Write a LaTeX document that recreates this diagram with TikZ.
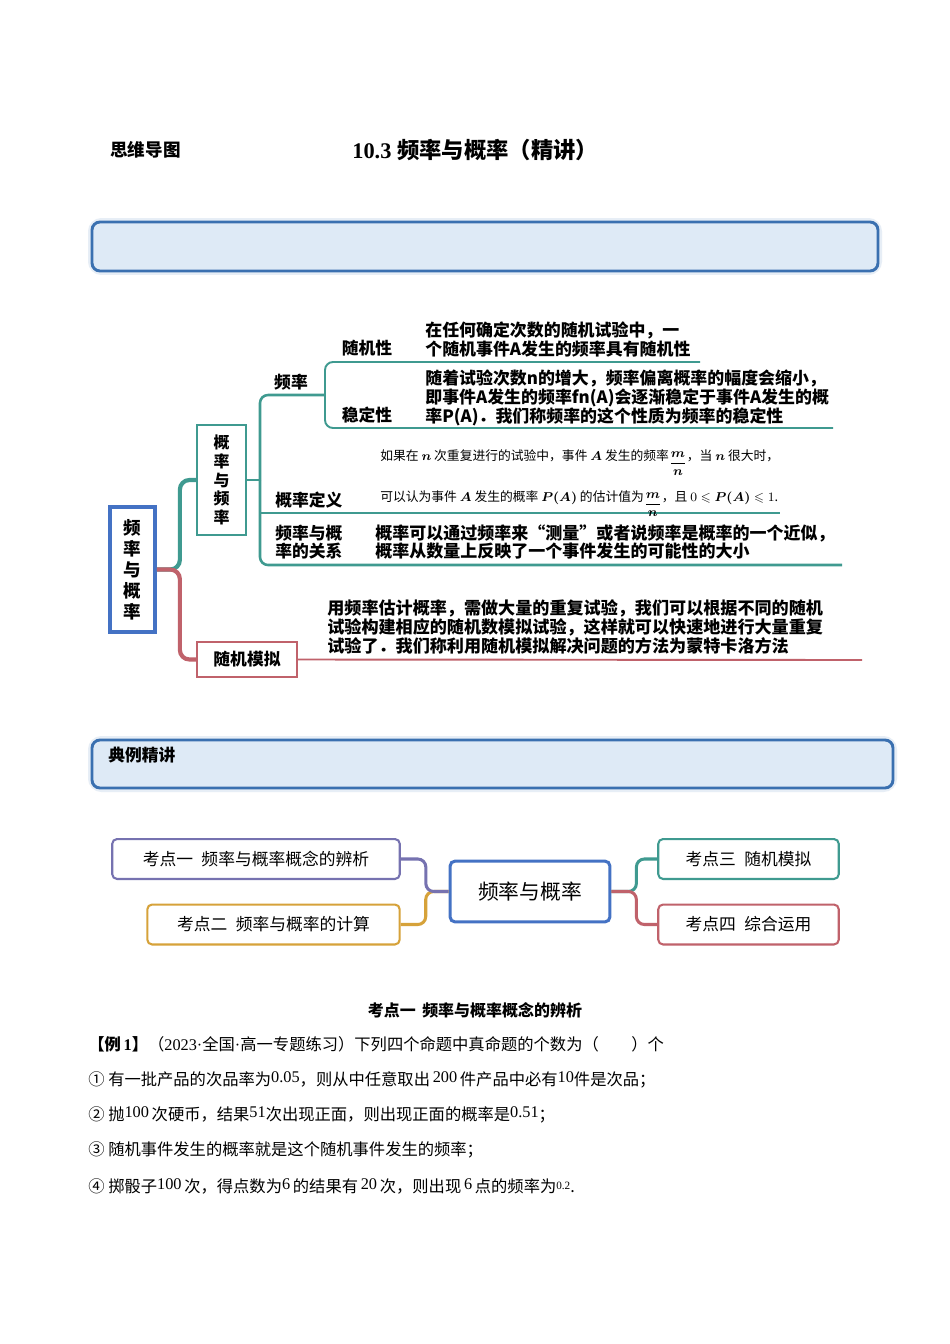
\documentclass[tikz,border=0pt]{standalone}
\usepackage{amsmath,amssymb}
\usepackage{fontspec}
\setmainfont{Liberation Serif}
\newfontfamily\cjk{Noto Sans CJK SC}
\newfontfamily\latn{Liberation Serif}
\usetikzlibrary{positioning,calc}

\definecolor{hdblue}{HTML}{3A70B0}
\definecolor{hdfill}{HTML}{DEEAF6}
\definecolor{rootblue}{HTML}{4472C4}
\definecolor{mmteal}{HTML}{3F9A90}
\definecolor{mmred}{HTML}{C0626B}
\definecolor{kdpurple}{HTML}{7672B0}
\definecolor{kdgold}{HTML}{D6A23A}

\newcommand{\upnum}[1]{\raisebox{0.35ex}{\latn #1}}
\newcommand{\mfrac}{\raisebox{-0.9ex}{$\boldsymbol{\dfrac{m}{n}}$}}

\begin{document}
\begin{tikzpicture}[
    x=0.626pt, y=-0.626pt,
    hdbox/.style={draw=hdblue, line width=1.8pt, fill=hdfill, rounded corners=5pt},
    hdglow/.style={draw=hdblue!12, line width=5pt, rounded corners=6pt},
    rootbox/.style={draw=rootblue, line width=2.5pt, fill=white, minimum width=28pt, minimum height=78pt,
                    align=center, inner sep=0pt, font=\cjk\bfseries\fontsize{11}{13.1}\selectfont},
    subbox/.style={draw=mmteal, line width=1.3pt, fill=white, minimum width=30.5pt, minimum height=68.5pt,
                   align=center, inner sep=0pt, font=\cjk\bfseries\fontsize{10}{11.7}\selectfont},
    simbox/.style={draw=mmred, line width=1.3pt, fill=white, minimum width=62.5pt, minimum height=21.8pt,
                   inner sep=0pt, font=\cjk\bfseries\fontsize{10.5}{12}\selectfont},
    lbl/.style={inner sep=0pt, align=left, font=\cjk\bfseries\fontsize{10.5}{11}\selectfont},
    leaf/.style={inner sep=0pt, align=left, anchor=west, font=\cjk\bfseries\fontsize{10.6}{11.9}\selectfont},
    deftxt/.style={inner sep=0pt, anchor=base west, font=\cjk\fontsize{8}{9}\selectfont},
    tbranch/.style={draw=mmteal, line width=2.6pt, rounded corners=6pt},
    rbranch/.style={draw=mmred, line width=2.6pt, rounded corners=6pt},
    trunk/.style={draw=mmteal, line width=1.6pt, rounded corners=5pt},
    leafline/.style={draw=mmteal, line width=1.2pt, rounded corners=5pt},
    kdbox/.style={draw, line width=1.3pt, fill=white, rounded corners=3pt, inner sep=0pt,
                  minimum height=25pt, font=\cjk\fontsize{10.5}{12}\selectfont},
    kdline/.style={line width=1.9pt, rounded corners=5pt},
    body/.style={inner sep=0pt, anchor=west, font=\cjk\fontsize{10.2}{12}\selectfont},
  ]
    \fill[white] (0,0) rectangle (950,1344);
    \useasboundingbox (0,0) rectangle (950,1344);

    % Page header
    \node[inner sep=0pt, anchor=west, font=\cjk\bfseries\fontsize{11}{12}\selectfont] (mmhead) at (110,150) {思维导图};
    \node[inner sep=0pt, anchor=west, font=\cjk\bfseries\fontsize{14}{15}\selectfont] (title) at (352,150)
        {{\latn\bfseries 10.3 }频率与概率（精讲）};

    % First banner
    \draw[hdglow] (92,222) rectangle (878,271);
    \draw[hdbox] (92,222) rectangle (878,271);

    % Mind map: root and first level
    \node[rootbox] (root) at (132.5,569.5) {频\\率\\与\\概\\率};
    \node[subbox]  (sub)  at (221.5,480)   {概\\率\\与\\频\\率};
    \node[simbox]  (sim)  at (247,659.5)   {随机模拟};

    % Junctions and line ends
    \coordinate (tk)     at (260,480);
    \coordinate (fq)     at (325,395);
    \coordinate (rnd)    at (700,362);
    \coordinate (stb)    at (833,428);
    \coordinate (dfn)    at (780,513);
    \coordinate (rel)    at (842,565);
    \coordinate (simend) at (862,660);

    % Branches
    \draw[tbranch] (root.east) -- ++(23,0) |- (sub.west);
    \draw[rbranch] (root.east) -- ++(23,0) |- (sim.west);
    \draw[trunk] (sub.east) -- (tk);
    \draw[trunk] (tk) |- (fq);
    \draw[trunk] (tk) |- (rel);
    \draw[leafline] (tk |- dfn) -- (dfn);
    \draw[leafline] (fq) |- (rnd);
    \draw[leafline] (fq) |- (stb);
    \draw[draw=mmred, line width=1.2pt] (sim.east) -- (simend);

    % Labels
    \node[lbl] (lfreq) at (291,382) {频率};
    \node[lbl] (lrnd)  at (367,348) {随机性};
    \node[lbl] (lstb)  at (367,415) {稳定性};
    \node[lbl, anchor=west] (ldef) at (275,500) {概率定义};
    \node[lbl, anchor=west] (lrel) at (275,542) {频率与概\\率的关系};

    % Leaf texts
    \node[leaf] (trnd) at (425,339) {在任何确定次数的随机试验中，一\\个随机事件A发生的频率具有随机性};
    \node[leaf] (tstb) at (425,397.5) {随着试验次数n的增大，频率偏离概率的幅度会缩小，\\即事件A发生的频率fn(A)会逐渐稳定于事件A发生的概\\率P(A)．我们称频率的这个性质为频率的稳定性};
    \node[deftxt] (tdef1) at (380,460) {如果在 $\boldsymbol{n}$ 次重复进行的试验中，事件 $\boldsymbol{A}$ 发生的频率\mfrac，当 $\boldsymbol{n}$ 很大时，};
    \node[deftxt] (tdef2) at (380,501) {可以认为事件 $\boldsymbol{A}$ 发生的概率 $\boldsymbol{P(A)}$ 的估计值为\mfrac，且 $0\leqslant \boldsymbol{P(A)}\leqslant 1$.};
    \node[leaf, font=\cjk\bfseries\fontsize{10.65}{10.8}\selectfont] (trel) at (375,542)
        {概率可以通过频率来“测量”或者说频率是概率的一个近似，\\概率从数量上反映了一个事件发生的可能性的大小};
    \node[leaf, font=\cjk\bfseries\fontsize{10.7}{11.9}\selectfont] (tsim) at (327,627)
        {用频率估计概率，需做大量的重复试验，我们可以根据不同的随机\\试验构建相应的随机数模拟试验，这样就可以快速地进行大量重复\\试验了．我们称利用随机模拟解决问题的方法为蒙特卡洛方法};

    % Second banner
    \draw[hdglow] (92,740) rectangle (893,788);
    \draw[hdbox] (92,740) rectangle (893,788);
    \node[inner sep=0pt, anchor=west, font=\cjk\bfseries\fontsize{10.5}{12}\selectfont] (exhead) at (108,755) {典例精讲};

    % Key points map
    \node[kdbox, draw=rootblue, line width=1.9pt, minimum width=100pt, minimum height=38pt,
          font=\cjk\fontsize{13}{14}\selectfont] (kc) at (530,891.5) {频率与概率};
    \node[kdbox, draw=kdpurple, minimum width=180pt] (k1) at (256,859)   {考点一\hspace{0.5em}频率与概率概念的辨析};
    \node[kdbox, draw=kdgold,   minimum width=158pt] (k2) at (273.5,924.5) {考点二\hspace{0.5em}频率与概率的计算};
    \node[kdbox, draw=mmteal,   minimum width=113pt] (k3) at (748.5,859)  {考点三\hspace{0.5em}随机模拟};
    \node[kdbox, draw=mmred,    minimum width=113pt] (k4) at (748.5,924.5) {考点四\hspace{0.5em}综合运用};

    \draw[kdline, kdgold]   (k2.east) -- ++(25,0) |- (kc.west);
    \draw[kdline, kdpurple] (k1.east) -- ++(25,0) |- (kc.west);
    \draw[kdline, mmteal]   (kc.east) -- ++(25,0) |- (k3.west);
    \draw[kdline, mmred]    (kc.east) -- ++(25,0) |- (k4.west);

    % Example
    \node[inner sep=0pt, font=\cjk\bfseries\fontsize{10}{12}\selectfont] (sec1) at (475,1010) {考点一\hspace{0.4em}频率与概率概念的辨析};
    \node[body] (ex1) at (88,1044) {{\bfseries 【例\,{\latn 1}】}（{\latn 2023·}全国{\latn ·}高一专题练习）下列四个命题中真命题的个数为（\hspace{2em}）个};
    \node[body] (it1) at (88,1080) {① 有一批产品的次品率为\upnum{0.05}，则从中任意取出\,\upnum{200}\,件产品中必有\upnum{10}件是次品；};
    \node[body] (it2) at (88,1115) {② 抛\upnum{100}\,次硬币，结果\upnum{51}次出现正面，则出现正面的概率是\upnum{0.51}；};
    \node[body] (it3) at (88,1150) {③ 随机事件发生的概率就是这个随机事件发生的频率；};
    \node[body] (it4) at (88,1186) {④ 掷骰子\upnum{100}\,次，得点数为\upnum{6}\,的结果有\,\upnum{20}\,次，则出现\,\upnum{6}\,点的频率为\upnum{\scriptsize 0.2}.};
\end{tikzpicture}
\end{document}
